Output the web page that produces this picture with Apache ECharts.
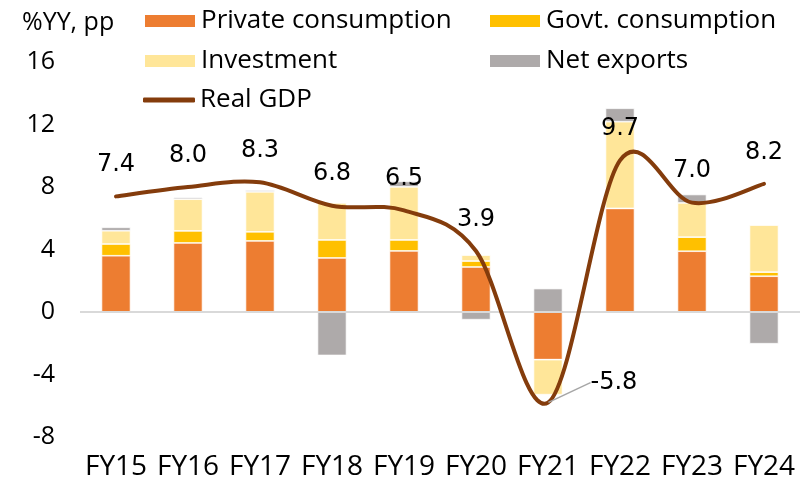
<!DOCTYPE html>
<html>
<head>
<meta charset="utf-8">
<script src="https://cdn.jsdelivr.net/npm/echarts@6/dist/echarts.min.js"></script>
<style>html,body{margin:0;padding:0;background:#fff;}#c{width:810px;height:482px;}</style>
</head>
<body>
<div id="c"></div>
<script>
const categories = ['FY15','FY16','FY17','FY18','FY19','FY20','FY21','FY22','FY23','FY24'];
const privateCons = [3.6, 4.42, 4.55, 3.46, 3.91, 2.88, -3.05, 6.63, 3.89, 2.29];
const govtCons    = [0.75, 0.77, 0.58, 1.15, 0.70, 0.38, 0, 0, 0.90, 0.26];
const investment  = [0.85, 2.03, 2.56, 2.37, 3.40, 0.38, -2.24, 5.55, 2.19, 3.01];
const netExports  = [0.22, 0.11, 0.11, -2.78, 0.35, -0.49, 1.50, 0.86, 0.54, -2.03];
const realGDP     = [7.4, 8.0, 8.3, 6.8, 6.5, 3.9, -5.8, 9.7, 7.0, 8.2];
const yTicks = {min: -8, max: 16, interval: 4};

const FONT = '"Open Sans", sans-serif';
const GDP_COLOR = '#843C0C';
const chart = echarts.init(document.getElementById('c'), null, {renderer: 'canvas'});

function legendItem(name, left, top, icon, h) {
  return {
    data: [name], left: left, top: top, orient: 'horizontal',
    icon: icon || 'rect', itemWidth: 52, itemHeight: h || 14,
    selectedMode: false, padding: 0,
    textStyle: {fontFamily: FONT, fontSize: 26, color: '#000'}
  };
}

const barBase = {
  type: 'bar', stack: 'gdp', barWidth: 29,
  itemStyle: {borderColor: '#fff', borderWidth: 0.7},
  emphasis: {disabled: true}
};

// Catmull-Rom smoothed path (as in spreadsheet "smoothed line"), using axis coordinates
function renderGDP(params, api) {
  if (params.dataIndex !== 0) return null;
  const n = realGDP.length;
  const pts = realGDP.map((v, i) => api.coord([i, v]));
  let d = 'M' + pts[0][0] + ',' + pts[0][1];
  for (let i = 0; i < n - 1; i++) {
    const p0 = pts[i - 1] || pts[i], p1 = pts[i], p2 = pts[i + 1], p3 = pts[i + 2] || pts[i + 1];
    const c1x = p1[0] + (p2[0] - p0[0]) / 6, c1y = p1[1] + (p2[1] - p0[1]) / 6;
    const c2x = p2[0] - (p3[0] - p1[0]) / 6, c2y = p2[1] - (p3[1] - p1[1]) / 6;
    d += ' C' + c1x + ',' + c1y + ' ' + c2x + ',' + c2y + ' ' + p2[0] + ',' + p2[1];
  }
  return {
    type: 'path', shape: {pathData: d},
    style: {fill: 'none', stroke: GDP_COLOR, lineWidth: 4, lineCap: 'round', lineJoin: 'round'}
  };
}

chart.setOption({
  animation: false,
  backgroundColor: '#fff',
  title: {text: '%YY, pp', left: 17, top: 5, textStyle: {fontFamily: FONT, fontSize: 25, fontWeight: 'normal', color: '#000'}},
  legend: [
    legendItem('Private consumption', 143, 8),
    legendItem('Govt. consumption', 488, 8),
    legendItem('Investment', 143, 48),
    legendItem('Net exports', 488, 48),
    legendItem('Real GDP', 143, 87, 'roundRect', 5)
  ],
  grid: {left: 80, right: 10, top: 62, bottom: 45, containLabel: false},
  xAxis: {
    type: 'category', data: categories,
    axisLine: {show: false}, axisTick: {show: false},
    axisLabel: {interval: 0, fontFamily: FONT, fontSize: 28, color: '#000', margin: 16}
  },
  yAxis: {
    type: 'value', min: yTicks.min, max: yTicks.max, interval: yTicks.interval,
    splitLine: {show: false}, axisLine: {show: false}, axisTick: {show: false},
    axisLabel: {fontFamily: FONT, fontSize: 25, color: '#000', margin: 25}
  },
  series: [
    Object.assign({}, barBase, {
      name: 'Private consumption', data: privateCons, color: '#ED7D31',
      markLine: {silent: true, symbol: ['none','none'], label: {show: false},
        lineStyle: {color: '#d9d9d9', width: 2, type: 'solid'}, data: [{yAxis: 0}]}
    }),
    Object.assign({}, barBase, {name: 'Govt. consumption', data: govtCons, color: '#FFC000'}),
    Object.assign({}, barBase, {name: 'Investment', data: investment, color: '#FFE699'}),
    Object.assign({}, barBase, {name: 'Net exports', data: netExports, color: '#AEAAAA'}),
    {
      name: 'Real GDP', type: 'custom', renderItem: renderGDP,
      data: realGDP.map((v, i) => [i, v]), encode: {x: 0, y: 1},
      color: GDP_COLOR, itemStyle: {color: GDP_COLOR}, z: 5, silent: true
    },
    {
      name: 'Real GDP labels', type: 'line', data: realGDP.map((v, i) => i === 6 ? {
        value: v,
        label: {position: 'right', distance: 4},
        labelLine: {show: true, lineStyle: {color: '#a6a6a6', width: 1.5}}
      } : v),
      symbol: 'circle', symbolSize: 1,
      itemStyle: {color: 'rgba(0,0,0,0)'}, lineStyle: {color: 'rgba(0,0,0,0)', width: 0},
      z: 6, silent: true,
      label: {show: true, position: 'top', distance: 19, fontFamily: '"DejaVu Sans", sans-serif', fontSize: 24, color: '#000', lineHeight: 24,
        formatter: p => p.value.toFixed(1)},
      labelLayout: function (params) {
        if (params.dataIndex === 6) return {dx: 38, dy: -20};
        return {};
      },
      emphasis: {disabled: true}
    }
  ]
});
</script>
</body>
</html>
